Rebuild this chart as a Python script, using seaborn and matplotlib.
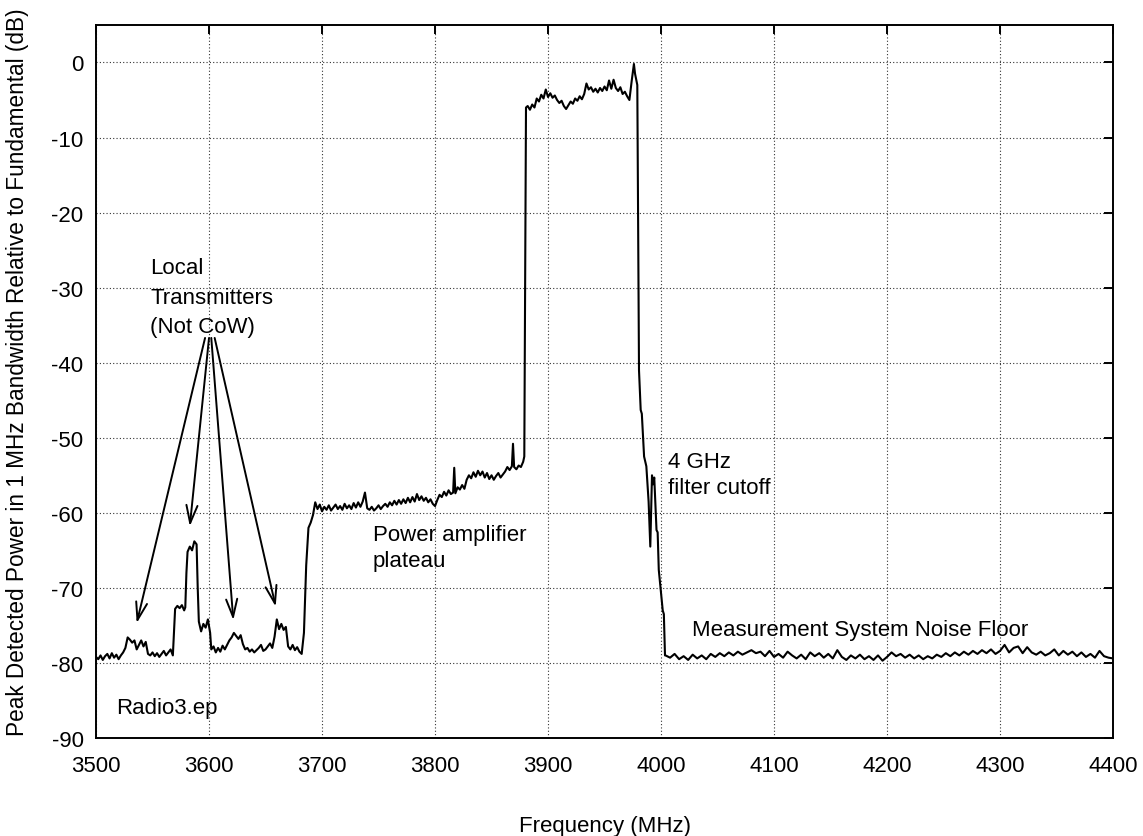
import matplotlib
matplotlib.use("Agg")
import matplotlib.pyplot as plt
import pandas as pd
import numpy as np
import seaborn as sns

# spectrum trace
freq_floor_lo = np.arange(3500, 3527, 2)
pwr_floor_lo = [-79.2, -79.5, -79.0, -79.6, -79.1, -78.8, -79.4, -78.7, -79.3, -78.9,
                -79.5, -79.0, -78.6, -78.0]

freq_tx = [3528, 3530, 3532, 3534, 3536, 3538, 3540, 3542, 3544, 3546,
           3548, 3550, 3552, 3554, 3556, 3558, 3560, 3562, 3564, 3566, 3568,
           3569, 3570, 3572, 3574, 3576, 3578, 3579, 3580, 3581, 3583, 3585, 3587, 3589,
           3590, 3591, 3593, 3595, 3597, 3599, 3601, 3602,
           3604, 3606, 3608, 3610, 3612, 3614, 3616, 3618, 3620, 3622, 3624, 3626, 3628,
           3630, 3632, 3634, 3636, 3638, 3640, 3642, 3644, 3646, 3648, 3650, 3652, 3654,
           3656, 3658, 3660, 3662, 3664, 3666, 3668, 3670, 3672, 3674, 3676, 3678, 3680,
           3682, 3684, 3686, 3688, 3690, 3692, 3694]
pwr_tx = [-76.6, -76.9, -77.3, -77.0, -78.2, -77.6, -77.0, -77.8, -77.2, -78.8,
          -79.0, -78.6, -79.1, -78.7, -79.2, -78.8, -78.4, -79.0, -78.6, -78.2, -79.0,
          -76.0, -72.8, -72.4, -72.7, -72.3, -73.0, -72.6, -68.0, -65.2, -64.5, -65.0, -63.8, -64.2,
          -70.0, -74.5, -75.8, -74.8, -75.3, -74.2, -76.0, -78.2,
          -77.8, -78.6, -78.0, -78.5, -77.7, -78.2, -77.6, -77.0, -76.6, -76.0, -76.4, -76.8, -76.3,
          -77.5, -78.2, -78.0, -78.5, -78.2, -78.6, -78.3, -78.0, -77.6, -78.4, -78.2, -77.8, -77.4,
          -78.0, -76.5, -74.2, -75.5, -74.8, -75.6, -75.2, -77.8, -78.2, -77.6, -78.3, -77.9, -78.5,
          -78.8, -76.0, -67.0, -62.0, -61.3, -60.3, -58.6]

freq_plateau = [3696, 3698, 3700, 3702, 3704, 3706, 3708, 3710, 3712, 3714, 3716, 3718,
                3720, 3722, 3724, 3726, 3728, 3730, 3732, 3734, 3736, 3738, 3740, 3742,
                3744, 3746, 3748, 3750, 3752, 3754, 3756, 3758, 3760, 3762, 3764, 3766,
                3768, 3770, 3772, 3774, 3776, 3778, 3780, 3782, 3784, 3786, 3788, 3790,
                3792, 3794, 3796, 3798, 3800, 3802, 3804, 3806, 3808, 3810, 3812, 3814,
                3816, 3817, 3818, 3820, 3822, 3824, 3826, 3828, 3830, 3832, 3834, 3836,
                3838, 3840, 3842, 3844, 3846, 3848, 3850, 3852, 3854, 3856, 3858, 3860,
                3862, 3864, 3866, 3868, 3869, 3870, 3872, 3874, 3876, 3878, 3879]
pwr_plateau = [-59.5, -58.9, -59.8, -59.2, -59.6, -59.0, -59.7, -59.3, -58.9, -59.5, -59.1, -59.6,
               -58.8, -59.4, -59.0, -59.5, -58.7, -59.3, -58.6, -59.2, -58.5, -57.3, -59.4, -59.6,
               -59.2, -59.7, -59.4, -59.0, -59.5, -59.1, -58.8, -59.2, -58.6, -59.0, -58.4, -58.9,
               -58.3, -58.8, -58.2, -58.7, -58.0, -58.6, -57.9, -58.5, -57.5, -58.3, -57.8, -58.4,
               -58.0, -58.6, -58.2, -58.8, -59.1, -58.3, -57.6, -57.9, -57.2, -57.7, -57.0, -57.5,
               -57.3, -54.0, -57.4, -56.6, -56.9, -56.3, -56.8, -55.6, -55.0, -55.4, -54.6, -55.2,
               -54.4, -55.0, -54.5, -55.3, -54.7, -55.5, -55.0, -55.6, -55.1, -54.7, -55.3, -54.9,
               -54.5, -53.9, -54.3, -53.8, -50.8, -53.9, -54.2, -53.7, -53.9, -53.2, -52.5]

freq_band = [3880.5, 3882, 3884, 3886, 3888, 3890, 3892, 3894, 3896, 3898, 3900, 3902,
             3904, 3906, 3908, 3910, 3912, 3914, 3916, 3918, 3920, 3922, 3924, 3926,
             3928, 3930, 3932, 3934, 3936, 3938, 3940, 3942, 3944, 3946, 3948, 3950,
             3952, 3954, 3956, 3958, 3960, 3962, 3964, 3966, 3968, 3970, 3972, 3974,
             3976, 3977, 3979]
pwr_band = [-6.0, -5.8, -6.3, -5.6, -6.0, -4.8, -5.2, -4.3, -4.8, -3.6, -4.6, -4.1,
            -4.7, -4.4, -5.0, -5.4, -5.1, -5.8, -6.2, -5.7, -5.2, -5.5, -4.8, -5.1,
            -4.5, -4.9, -4.2, -2.8, -3.6, -3.3, -3.9, -3.5, -4.0, -3.4, -3.8, -3.2,
            -3.7, -2.4, -3.5, -2.3, -3.4, -3.8, -3.3, -4.2, -3.9, -4.5, -5.0, -2.5,
            -0.2, -1.5, -3.0]

freq_cutoff = [3980.5, 3982, 3983, 3985, 3987, 3989, 3990.5, 3992, 3993, 3994, 3995,
               3996, 3997, 3998, 4001.5, 4002.5, 4003.5]
pwr_cutoff = [-41.0, -46.3, -46.8, -52.5, -53.8, -58.5, -64.5, -55.0, -56.2, -55.3, -58.7,
              -62.3, -62.6, -67.6, -73.0, -73.5, -79.0]

freq_floor_hi = np.arange(4004, 4401, 4)
pwr_floor_hi = [-79.0, -79.3, -78.8, -79.5, -79.1, -79.6, -78.9, -79.4, -79.0, -79.5,
                -78.8, -79.2, -78.7, -79.1, -78.6, -79.0, -78.5, -78.9, -78.6, -78.3,
                -78.7, -78.5, -79.1, -78.4, -79.2, -78.8, -79.3, -78.5, -79.0, -79.4,
                -78.9, -79.5, -78.6, -79.1, -78.7, -79.3, -78.8, -79.4, -78.3, -79.2,
                -79.6, -79.0, -79.4, -78.9, -79.5, -79.1, -79.6, -79.0, -79.7, -79.2,
                -78.6, -79.1, -78.8, -79.3, -78.9, -79.4, -79.0, -79.5, -79.1, -79.4,
                -78.9, -79.2, -78.7, -79.1, -78.6, -79.0, -78.5, -78.9, -78.4, -78.8,
                -78.3, -78.7, -78.2, -78.8, -78.4, -77.6, -78.6, -78.0, -77.8, -78.7,
                -77.9, -78.6, -78.9, -78.5, -79.0, -78.7, -78.2, -79.0, -78.4, -78.9,
                -78.5, -79.1, -78.6, -79.2, -78.8, -79.3, -78.4, -79.1, -79.3, -79.4]

x_ticks = list(range(3500, 4401, 100))
y_ticks = list(range(-90, 1, 10))

df = pd.DataFrame({
    "freq": np.concatenate([freq_floor_lo, freq_tx, freq_plateau, freq_band,
                            freq_cutoff, freq_floor_hi]),
    "power": np.concatenate([pwr_floor_lo, pwr_tx, pwr_plateau, pwr_band,
                             pwr_cutoff, pwr_floor_hi]),
})

sns.set_style("white")
plt.rcParams["font.family"] = ["Liberation Sans", "DejaVu Sans"]
plt.rcParams["axes.unicode_minus"] = False
plt.rcParams["text.color"] = "black"
plt.rcParams["axes.labelcolor"] = "black"
FS = 16

fig = plt.figure(figsize=(11.43, 8.37), dpi=100)
ax = fig.add_axes([0.0840, 0.1171, 0.8898, 0.8519])

sns.lineplot(data=df, x="freq", y="power", color="black", linewidth=1.5,
             estimator=None, sort=False, ax=ax)

ax.set_xlim(3500, 4400)
ax.set_ylim(-90, 5)
ax.set_xticks(x_ticks)
ax.set_yticks(y_ticks)
ax.grid(True, color="#333333", linestyle=(0, (1, 2)), linewidth=0.8)
ax.set_axisbelow(True)
for s in ax.spines.values():
    s.set_color("black")
    s.set_linewidth(1.4)
ax.tick_params(axis="both", which="major", direction="in", length=6.5, width=1.4,
               top=True, right=True, labelsize=FS, colors="black")
ax.tick_params(axis="y", pad=9)
ax.tick_params(axis="x", pad=12)

ax.set_xlabel("Frequency (MHz)", fontsize=FS, labelpad=28)
ax.set_ylabel("Peak Detected Power in 1 MHz Bandwidth Relative to Fundamental (dB)",
              fontsize=16.3)
ax.yaxis.set_label_coords(-0.066, 0.515)

# annotations
ax.text(3547.8, -27.3, "Local", fontsize=FS, va="center")
ax.text(3547.8, -31.3, "Transmitters", fontsize=FS, va="center")
ax.text(3547.8, -35.2, "(Not CoW)", fontsize=FS, va="center")

arrows = [((3596.5, -36.7), (3536, -74.7)),
          ((3600, -36.7), (3583, -61.8)),
          ((3602, -36.7), (3621.5, -74.3)),
          ((3605, -36.7), (3659, -72.5))]
for tail, tip in arrows:
    ax.annotate("", xy=tip, xytext=tail, fontsize=FS,
                arrowprops=dict(arrowstyle="->, head_length=0.8, head_width=0.25",
                                color="black", lw=1.4, shrinkA=0, shrinkB=0))

ax.text(3745, -62.9, "Power amplifier", fontsize=FS, va="center")
ax.text(3745, -66.3, "plateau", fontsize=FS, va="center")
ax.text(4006, -53.2, "4 GHz", fontsize=FS, va="center")
ax.text(4006, -56.6, "filter cutoff", fontsize=FS, va="center")
ax.text(4027, -75.6, "Measurement System Noise Floor", fontsize=FS, va="center")
ax.text(3518, -85.9, "Radio3.ep", fontsize=FS, va="center")

fig.savefig("out.png", dpi=100)
